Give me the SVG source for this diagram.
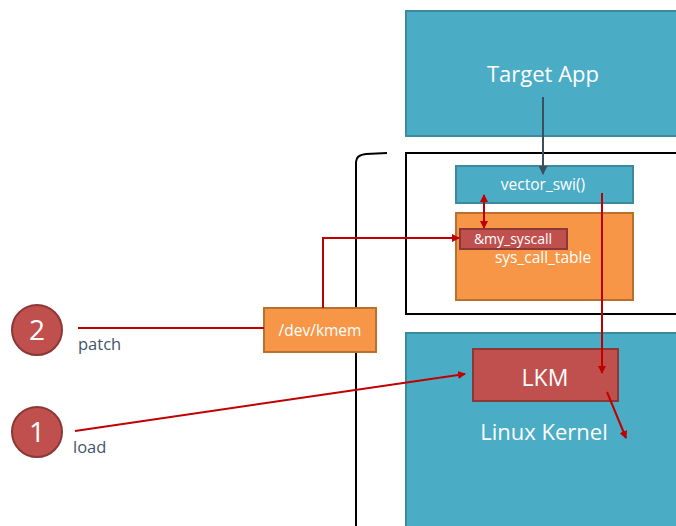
<svg xmlns="http://www.w3.org/2000/svg" width="676" height="526" viewBox="0 0 676 526">
<defs>
<style>
.teal{fill:#4bacc6;stroke:#3b8aa0;stroke-width:2}
.orange{fill:#f79646;stroke:#b9702f;stroke-width:2}
.red{fill:#c0504d;stroke:#8c3836;stroke-width:2}
.w{fill:#fff;font-family:"Open Sans","Liberation Sans",sans-serif;text-anchor:middle}
.g{fill:#44546a;font-family:"Open Sans","Liberation Sans",sans-serif;font-size:16.5px}
.rl{fill:none;stroke:#c00000;stroke-width:2}
</style>
<marker id="ar" markerWidth="8" markerHeight="8" refX="7" refY="4" orient="auto" markerUnits="userSpaceOnUse" viewBox="0 0 8 8"><path d="M0,0 L8,4 L0,8 z" fill="#c00000"/></marker>
<marker id="ars" markerWidth="8" markerHeight="8" refX="1" refY="4" orient="auto" markerUnits="userSpaceOnUse" viewBox="0 0 8 8"><path d="M8,0 L0,4 L8,8 z" fill="#c00000"/></marker>
<marker id="ad" markerWidth="9" markerHeight="9" refX="8" refY="4.5" orient="auto" markerUnits="userSpaceOnUse" viewBox="0 0 9 9"><path d="M0,0 L9,4.5 L0,9 z" fill="#3d4f5c"/></marker>
</defs>
<rect width="676" height="526" fill="#fff"/>
<g id="bracket"><path d="M356,526 V162 Q356,155 366,154 L387,153" fill="none" stroke="#000" stroke-width="2"/></g>
<g id="target-app"><rect class="teal" x="406" y="11" width="280" height="125"/><text class="w" x="543" y="82" font-size="22">Target App</text></g>
<g id="kernel-space"><rect x="406" y="153" width="280" height="161" fill="none" stroke="#000" stroke-width="2"/></g>
<g id="linux-kernel"><rect class="teal" x="406" y="333" width="280" height="200"/><text class="w" x="544" y="440" font-size="22">Linux Kernel</text></g>
<g id="sys-call-table"><rect class="orange" x="456" y="213" width="177" height="87"/><text class="w" x="543" y="263" font-size="15.5">sys_call_table</text></g>
<g id="vector-swi"><rect class="teal" x="456" y="166" width="177" height="37"/><text class="w" x="543" y="190" font-size="15.5">vector_swi()</text></g>
<g id="my-syscall"><rect class="red" x="460" y="229" width="107" height="20"/><text class="w" x="513" y="244" font-size="14">&amp;my_syscall</text></g>
<g id="lkm"><rect class="red" x="473" y="349" width="145" height="52"/><text class="w" x="545" y="386" font-size="23">LKM</text></g>
<g id="dev-kmem"><rect class="orange" x="264" y="308" width="112" height="44"/><text class="w" x="320" y="336" font-size="15.5">/dev/kmem</text></g>
<g id="step2"><circle class="red" cx="37" cy="330" r="25"/><text class="w" x="37" y="340" font-size="28">2</text><text class="g" x="78" y="350">patch</text></g>
<g id="step1"><circle class="red" cx="37" cy="432" r="25"/><text class="w" x="37" y="442" font-size="28">1</text><text class="g" x="73" y="453">load</text></g>
<g id="connectors">
<line x1="543" y1="97" x2="543" y2="174" stroke="#3d4f5c" stroke-width="2" marker-end="url(#ad)"/>
<line class="rl" x1="484" y1="195" x2="484" y2="228" marker-start="url(#ars)" marker-end="url(#ar)"/>
<line class="rl" x1="602" y1="193" x2="602" y2="373" marker-end="url(#ar)"/>
<line class="rl" x1="607" y1="392" x2="626" y2="438" marker-end="url(#ar)"/>
<polyline class="rl" points="323,308 323,238 459,238" marker-end="url(#ar)"/>
<line class="rl" x1="78" y1="328" x2="264" y2="328"/>
<line class="rl" x1="75" y1="431" x2="465" y2="374" marker-end="url(#ar)"/>
</g>
</svg>
